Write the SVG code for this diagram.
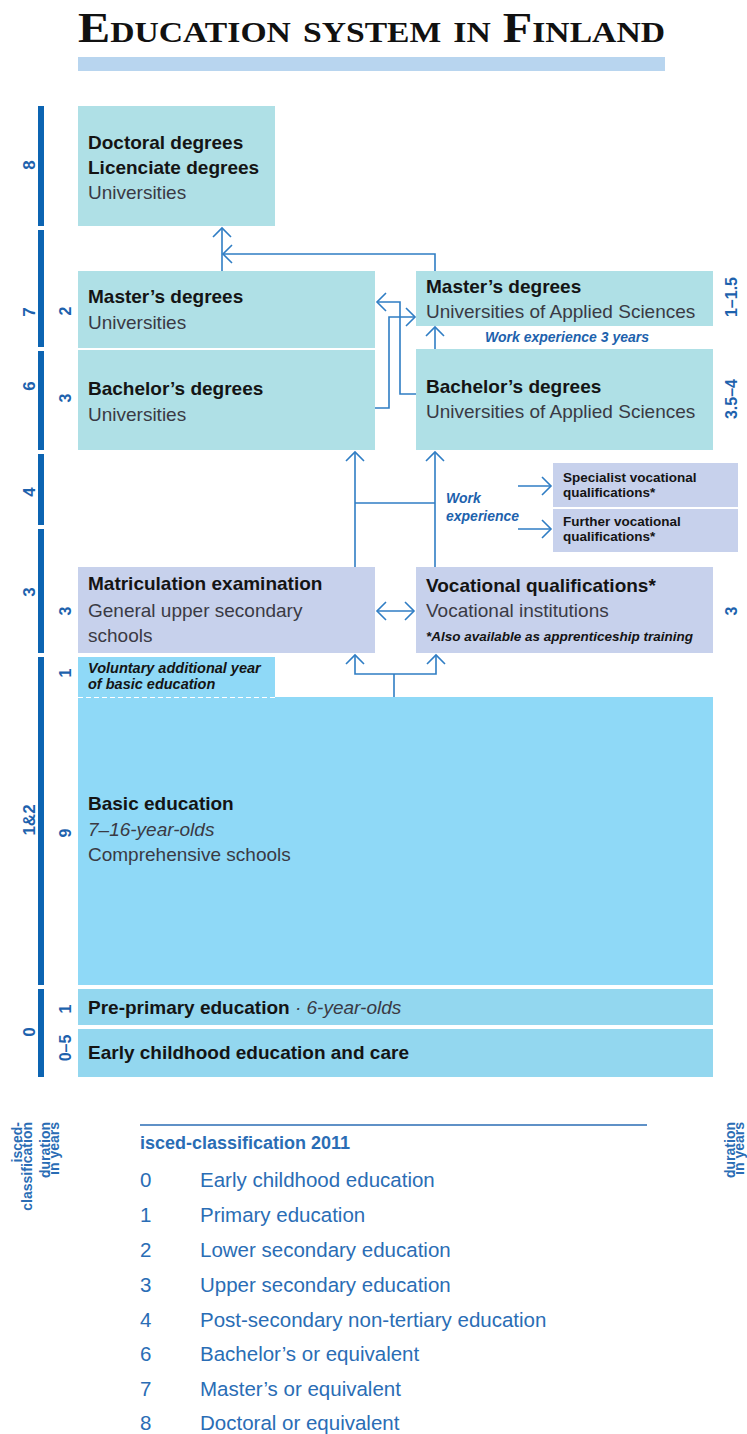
<svg xmlns="http://www.w3.org/2000/svg" width="747" height="1434" viewBox="0 0 747 1434">
<style>
text{font-family:"Liberation Sans",Arial,sans-serif}
.b{font-weight:bold;font-size:19px;fill:#141414}
.r{font-size:19px;fill:#3a3a44}
.it{font-style:italic}
.cy{fill:#afe0e6}
.lv{fill:#c7d1ec}
.sk{fill:#8fd9f7}
.pp{fill:#93d7ef}
.bar{fill:#0c64b2}
.lab{font-weight:bold;font-size:17px;fill:#1d62ad}
.wk{font-weight:bold;font-style:italic;font-size:14px;fill:#1d62ad}
.sm{font-weight:bold;font-size:13.5px;fill:#141414}
.lg{font-size:20.5px;fill:#2a6db5}
.rot{font-weight:bold;font-size:14px;fill:#2a6db5}
.cn{fill:none;stroke:#2f7dc4;stroke-width:1.6}
</style>
<defs>
<marker id="ah" markerUnits="userSpaceOnUse" markerWidth="24" markerHeight="24" viewBox="0 0 24 24" refX="12" refY="12" orient="auto-start-reverse">
<path d="M3,3 L12,12 L3,21" fill="none" stroke="#2f7dc4" stroke-width="1.6"/>
</marker>
</defs>

<g id="title">
<text x="78" y="42" font-family="Liberation Serif,serif" font-weight="bold" font-size="43" style="font-family:'Liberation Serif',serif;font-variant:small-caps" fill="#111" textLength="587" lengthAdjust="spacingAndGlyphs">Education system in Finland</text>
<rect x="78" y="57" width="587" height="14" fill="#b8d5ef"/>
</g>

<g id="isced-bars">
<rect class="bar" x="38" y="106" width="6" height="120"/>
<rect class="bar" x="38" y="230" width="6" height="117"/>
<rect class="bar" x="38" y="351" width="6" height="99"/>
<rect class="bar" x="38" y="454" width="6" height="71"/>
<rect class="bar" x="38" y="529" width="6" height="124"/>
<rect class="bar" x="38" y="657" width="6" height="328"/>
<rect class="bar" x="38" y="989" width="6" height="88"/>
<g class="lab" text-anchor="middle" dominant-baseline="central">
<text x="29" y="165" transform="rotate(-90 29 165)">8</text>
<text x="29" y="312" transform="rotate(-90 29 312)">7</text>
<text x="29" y="386" transform="rotate(-90 29 386)">6</text>
<text x="29" y="492" transform="rotate(-90 29 492)">4</text>
<text x="29" y="592" transform="rotate(-90 29 592)">3</text>
<text x="29" y="820" transform="rotate(-90 29 820)">1&amp;2</text>
<text x="29" y="1032" transform="rotate(-90 29 1032)">0</text>
</g>
<g class="lab" text-anchor="middle" dominant-baseline="central" style="font-size:16px">
<text x="65" y="311" transform="rotate(-90 65 311)">2</text>
<text x="65" y="398" transform="rotate(-90 65 398)">3</text>
<text x="65" y="611" transform="rotate(-90 65 611)">3</text>
<text x="65" y="673" transform="rotate(-90 65 673)">1</text>
<text x="65" y="833" transform="rotate(-90 65 833)">9</text>
<text x="65" y="1009" transform="rotate(-90 65 1009)">1</text>
<text x="65" y="1048" transform="rotate(-90 65 1048)">0–5</text>
<text x="731" y="297" transform="rotate(-90 731 297)">1–1.5</text>
<text x="731" y="399" transform="rotate(-90 731 399)">3.5–4</text>
<text x="731" y="611" transform="rotate(-90 731 611)">3</text>
</g>
</g>

<g id="doctoral">
<rect class="cy" x="78" y="106" width="197" height="120"/>
<text class="b" x="88" y="149">Doctoral degrees</text>
<text class="b" x="88" y="174">Licenciate degrees</text>
<text class="r" x="88" y="199">Universities</text>
</g>
<g id="masters-univ">
<rect class="cy" x="78" y="271" width="297" height="77"/>
<text class="b" x="88" y="303">Master’s degrees</text>
<text class="r" x="88" y="329">Universities</text>
</g>
<g id="bachelors-univ">
<rect class="cy" x="78" y="350" width="297" height="100"/>
<text class="b" x="88" y="395">Bachelor’s degrees</text>
<text class="r" x="88" y="421">Universities</text>
</g>
<g id="masters-uas">
<rect class="cy" x="416" y="271" width="297" height="55"/>
<text class="b" x="426" y="293">Master’s degrees</text>
<text class="r" x="426" y="318">Universities of Applied Sciences</text>
</g>
<g id="work-exp-3">
<text class="wk" x="567" y="342" text-anchor="middle">Work experience 3 years</text>
</g>
<g id="bachelors-uas">
<rect class="cy" x="416" y="349" width="297" height="101"/>
<text class="b" x="426" y="393">Bachelor’s degrees</text>
<text class="r" x="426" y="418">Universities of Applied Sciences</text>
</g>
<g id="specialist">
<rect class="lv" x="553" y="463" width="185" height="44"/>
<text class="sm" x="563" y="482">Specialist vocational</text>
<text class="sm" x="563" y="497">qualifications*</text>
</g>
<g id="further">
<rect class="lv" x="553" y="509" width="185" height="43"/>
<text class="sm" x="563" y="526">Further vocational</text>
<text class="sm" x="563" y="541">qualifications*</text>
</g>
<g id="work-exp">
<text class="wk" x="446" y="503">Work</text>
<text class="wk" x="446" y="521">experience</text>
</g>
<g id="matriculation">
<rect class="lv" x="78" y="567" width="297" height="86"/>
<text class="b" x="88" y="590">Matriculation examination</text>
<text class="r" x="88" y="617">General upper secondary</text>
<text class="r" x="88" y="642">schools</text>
</g>
<g id="vocational">
<rect class="lv" x="416" y="567" width="297" height="86"/>
<text class="b" x="426" y="592">Vocational qualifications*</text>
<text class="r" x="426" y="617">Vocational institutions</text>
<text class="sm it" x="426" y="641" style="font-size:13.5px">*Also available as apprenticeship training</text>
</g>
<g id="voluntary">
<rect class="sk" x="78" y="657" width="197" height="41"/>
<text class="sm it" x="88" y="673" style="font-size:14.5px">Voluntary additional year</text>
<text class="sm it" x="88" y="689" style="font-size:14.5px">of basic education</text>
</g>
<g id="basic">
<rect class="sk" x="78" y="697" width="635" height="288"/>
<line x1="78" y1="697.5" x2="275" y2="697.5" stroke="#ffffff" stroke-width="1" stroke-dasharray="5,3"/>
<text class="b" x="88" y="810">Basic education</text>
<text class="r it" x="88" y="836">7–16-year-olds</text>
<text class="r" x="88" y="861">Comprehensive schools</text>
</g>
<g id="pre-primary">
<rect class="pp" x="78" y="989" width="635" height="36"/>
<text x="88" y="1014"><tspan class="b">Pre-primary education</tspan><tspan class="r it"> · 6-year-olds</tspan></text>
</g>
<g id="early-childhood">
<rect class="pp" x="78" y="1029" width="635" height="48"/>
<text class="b" x="88" y="1059">Early childhood education and care</text>
</g>

<g id="connectors">
<path class="cn" d="M222,271 V228" marker-end="url(#ah)"/>
<path class="cn" d="M435,271 V254 H223" marker-end="url(#ah)"/>
<path class="cn" d="M375,408 H389 V317 H415" marker-end="url(#ah)"/>
<path class="cn" d="M416,394 H400 V302 H377" marker-end="url(#ah)"/>
<path class="cn" d="M435,349 V327" marker-end="url(#ah)"/>
<path class="cn" d="M355,567 V452" marker-end="url(#ah)"/>
<path class="cn" d="M435,567 V452" marker-end="url(#ah)"/>
<path class="cn" d="M355,503 H435"/>
<path class="cn" d="M355,655 V674 H436 V655" marker-start="url(#ah)" marker-end="url(#ah)"/>
<path class="cn" d="M394,697 V674"/>
<path class="cn" d="M377,611 H414" marker-start="url(#ah)" marker-end="url(#ah)"/>
<path class="cn" d="M518,486 H551" marker-end="url(#ah)"/>
<path class="cn" d="M518,529 H551" marker-end="url(#ah)"/>
</g>

<g id="axis-labels" class="rot" text-anchor="end">
<text transform="translate(22 1122) rotate(-90)"><tspan x="0" y="0">isced-</tspan><tspan x="0" y="10">classification</tspan></text>
<text transform="translate(50 1122) rotate(-90)"><tspan x="0" y="0">duration</tspan><tspan x="0" y="9">in years</tspan></text>
<text transform="translate(735 1122) rotate(-90)"><tspan x="0" y="0">duration</tspan><tspan x="0" y="9">in years</tspan></text>
</g>

<g id="legend">
<line x1="140" y1="1125" x2="647" y2="1125" stroke="#2a6db5" stroke-width="1.6"/>
<text x="140" y="1149" style="font-weight:bold;font-size:18px;fill:#2a6db5">isced-classification 2011</text>
<g class="lg">
<text x="140" y="1187">0</text><text x="200" y="1187">Early childhood education</text>
<text x="140" y="1222">1</text><text x="200" y="1222">Primary education</text>
<text x="140" y="1257">2</text><text x="200" y="1257">Lower secondary education</text>
<text x="140" y="1292">3</text><text x="200" y="1292">Upper secondary education</text>
<text x="140" y="1327">4</text><text x="200" y="1327">Post-secondary non-tertiary education</text>
<text x="140" y="1361">6</text><text x="200" y="1361">Bachelor’s or equivalent</text>
<text x="140" y="1396">7</text><text x="200" y="1396">Master’s or equivalent</text>
<text x="140" y="1430">8</text><text x="200" y="1430">Doctoral or equivalent</text>
</g>
</g>
</svg>
